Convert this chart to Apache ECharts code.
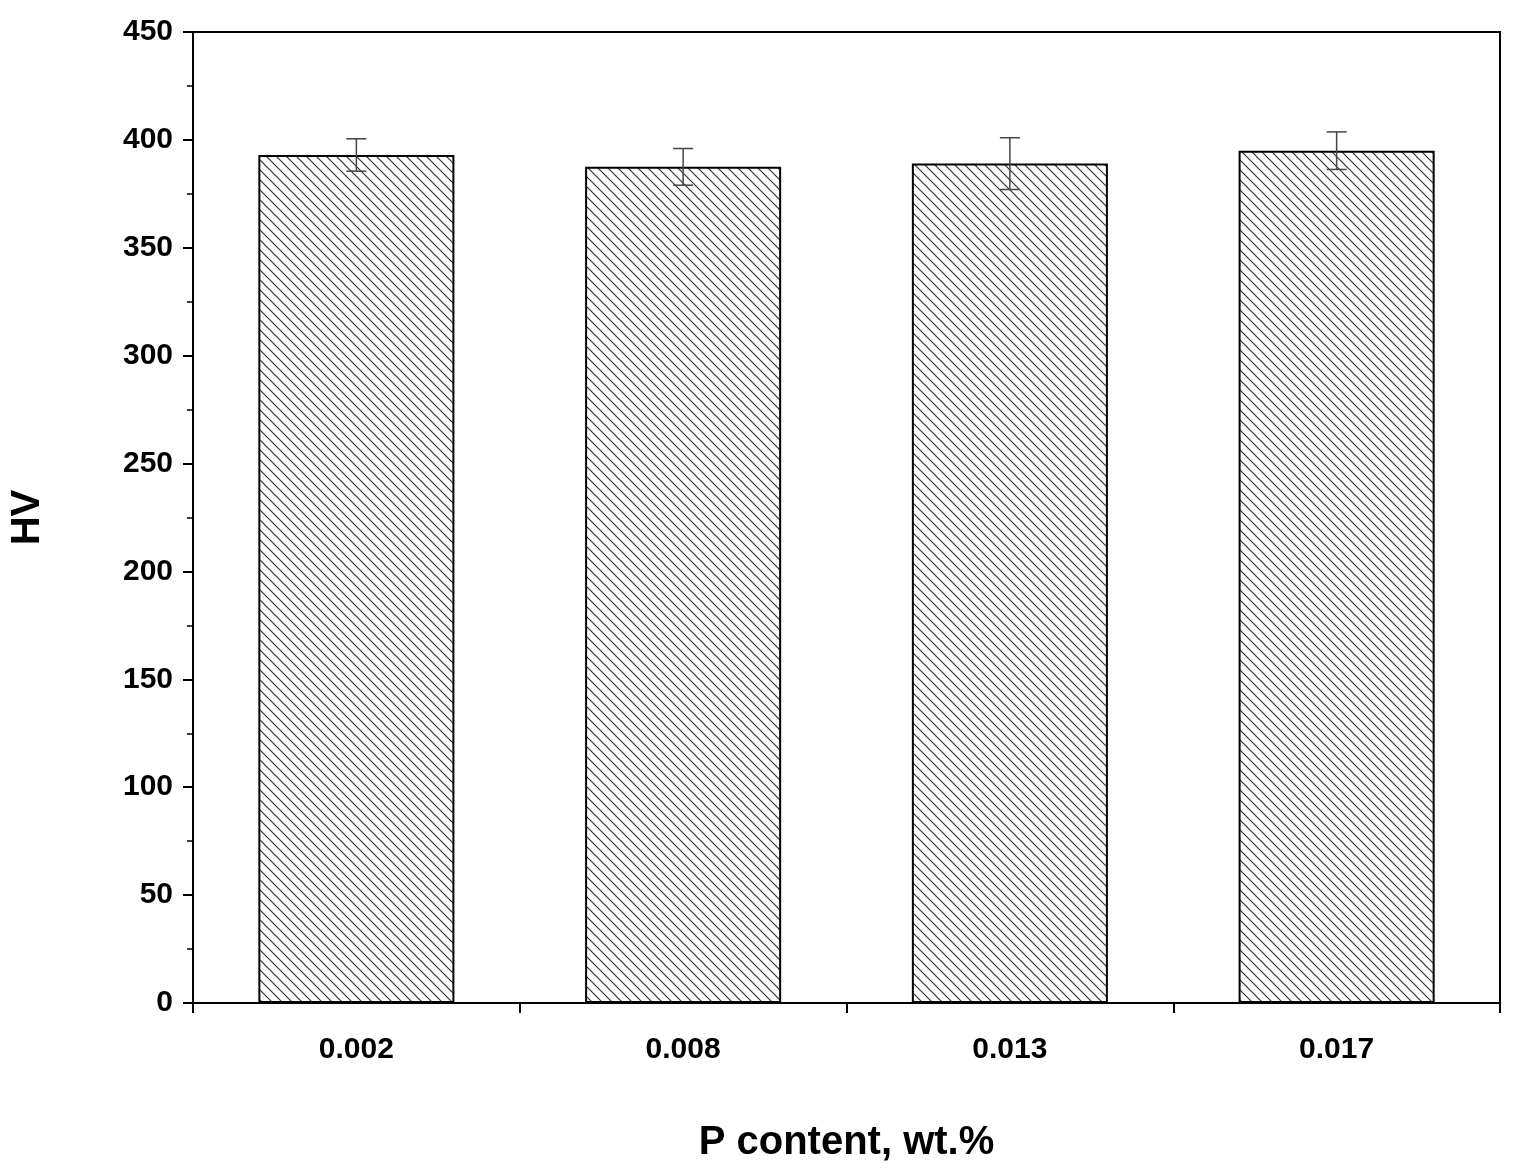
<!doctype html>
<html lang="en">
<head>
	<meta charset="UTF-8">
	<title>HV vs P content</title>
	<script src="https://cdnjs.cloudflare.com/ajax/libs/echarts/6.0.0/echarts.min.js"></script>
	<style>
		html, body { margin: 0; padding: 0; background: #fff; }
		#main { width: 1515px; height: 1172px; }
	</style>
</head>
<body>
	<div id="main"></div>
	<script type="text/javascript">
		var categories = ['0.002', '0.008', '0.013', '0.017'];
		var hvValues = [393, 387.5, 389, 395];
		var hvErrors = [7.5, 8.5, 12, 8.7];

		// hatch pattern (\\\ lines)
		var hatch = document.createElement('canvas');
		hatch.width = 10; hatch.height = 10;
		var ctx = hatch.getContext('2d');
		ctx.fillStyle = '#fff';
		ctx.fillRect(0, 0, 10, 10);
		ctx.strokeStyle = '#333';
		ctx.lineWidth = 1.2;
		ctx.beginPath();
		ctx.moveTo(-1, -1); ctx.lineTo(11, 11);
		ctx.moveTo(-6, 4); ctx.lineTo(6, 16);
		ctx.moveTo(4, -6); ctx.lineTo(16, 6);
		ctx.stroke();

		var errData = categories.map(function (c, i) {
			return [i, hvValues[i] - hvErrors[i], hvValues[i] + hvErrors[i]];
		});

		var axisFont = { fontFamily: 'Liberation Sans', fontWeight: 'bold', fontSize: 30, color: '#000' };
		var nameFont = { fontFamily: 'Liberation Sans', fontWeight: 'bold', fontSize: 40, color: '#000' };

		var myChart = echarts.init(document.getElementById('main'));
		var option = {
			animation: false,
			grid: { left: 180, right: 15, top: 32, bottom: 169, show: true, borderColor: '#000', borderWidth: 2 },
			xAxis: {
				type: 'category',
				data: categories,
				name: 'P content, wt.%',
				nameLocation: 'middle',
				nameGap: 120,
				nameTextStyle: nameFont,
				axisLine: { lineStyle: { color: '#000', width: 2 } },
				axisTick: { show: true, length: 10, lineStyle: { color: '#000', width: 2 } },
				axisLabel: Object.assign({ margin: 32 }, axisFont),
				splitLine: { show: false }
			},
			yAxis: {
				type: 'value',
				min: 0, max: 450, interval: 50,
				name: 'HV',
				nameLocation: 'middle',
				nameGap: 145,
				nameTextStyle: nameFont,
				axisLine: { show: true, lineStyle: { color: '#000', width: 2 } },
				axisTick: { show: true, length: 10, lineStyle: { color: '#000', width: 2 } },
				minorTick: { show: true, splitNumber: 2, length: 6, lineStyle: { color: '#000', width: 1.5 } },
				axisLabel: Object.assign({ margin: 20 }, axisFont),
				splitLine: { show: false }
			},
			series: [
				{
					type: 'bar',
					data: hvValues,
					barWidth: '60%',
					itemStyle: { color: { image: hatch, repeat: 'repeat' }, borderColor: '#000', borderWidth: 2 }
				},
				{
					type: 'custom',
					data: errData,
					z: 10,
					renderItem: function (params, api) {
						var x = api.value(0);
						var lo = api.coord([x, api.value(1)]);
						var hi = api.coord([x, api.value(2)]);
						var w = 10;
						var st = { stroke: '#444', lineWidth: 1.5 };
						return {
							type: 'group',
							children: [
								{ type: 'line', shape: { x1: hi[0], y1: hi[1], x2: lo[0], y2: lo[1] }, style: st },
								{ type: 'line', shape: { x1: hi[0] - w, y1: hi[1], x2: hi[0] + w, y2: hi[1] }, style: st },
								{ type: 'line', shape: { x1: lo[0] - w, y1: lo[1], x2: lo[0] + w, y2: lo[1] }, style: st }
							]
						};
					}
				}
			]
		};
		myChart.setOption(option);
	</script>
</body>
</html>
